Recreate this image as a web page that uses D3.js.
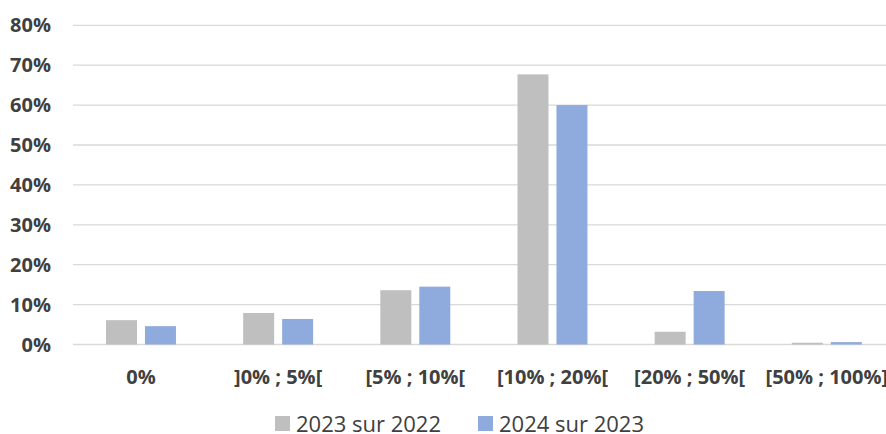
<!DOCTYPE html>
<html><head>
<meta charset="utf-8">
<script src="https://d3js.org/d3.v7.min.js"></script>
<style>
  body { margin: 0; background: #fff; }
  text { font-family: "Open Sans", "Noto Sans", sans-serif; fill: #404040; }
  text.tick { font-weight: bold; font-size: 20px; }
  text.cat { font-weight: bold; font-size: 20px; text-anchor: middle; }
  text.leg { font-size: 22px; }
  line.grid { stroke: #d9d9d9; stroke-width: 1.3px; }
</style>
</head>
<body>
<svg id="chart" width="886" height="434"></svg>
<script>
  // categories and values
  const categories = ["0%", "]0% ; 5%[", "[5% ; 10%[", "[10% ; 20%[", "[20% ; 50%[", "[50% ; 100%]"];
  const seriesNames = ["2023 sur 2022", "2024 sur 2023"];
  const values2023 = [0.061, 0.079, 0.136, 0.677, 0.032, 0.0045];
  const values2024 = [0.046, 0.064, 0.145, 0.600, 0.134, 0.006];
  const yTicks = [0, 0.1, 0.2, 0.3, 0.4, 0.5, 0.6, 0.7, 0.8];
  const colors = ["#bfbfbf", "#8faadc"];

  const svg = d3.select("#chart");

  const x0 = d3.scaleBand().domain(categories).range([72.4, 895.4])
               .paddingInner(0.49).paddingOuter(0.245);
  const x1 = d3.scaleBand().domain(seriesNames).range([0, x0.bandwidth()]).paddingInner(0.205);
  const y = d3.scaleLinear().domain([0, 0.8]).range([344.5, 25.3]);

  // gridlines
  svg.selectAll("line.grid").data(yTicks).join("line")
     .attr("class", "grid")
     .attr("x1", 73).attr("x2", 886)
     .attr("y1", d => y(d)).attr("y2", d => y(d));

  // y tick labels
  svg.selectAll("text.tick").data(yTicks).join("text")
     .attr("class", "tick")
     .attr("x", 51).attr("y", d => y(d))
     .attr("dy", "0.35em")
     .attr("text-anchor", "end")
     .text(d => d3.format(".0%")(d));

  // bars
  const rows = categories.map((c, i) => ({cat: c, vals: [values2023[i], values2024[i]]}));
  const groups = svg.selectAll("g.grp").data(rows).join("g")
     .attr("class", "grp")
     .attr("transform", d => "translate(" + x0(d.cat) + ",0)");
  groups.selectAll("rect").data(d => d.vals.map((v, k) => ({name: seriesNames[k], v: v, k: k})))
     .join("rect")
     .attr("x", d => x1(d.name))
     .attr("width", x1.bandwidth())
     .attr("y", d => y(d.v))
     .attr("height", d => y(0) - y(d.v))
     .attr("fill", d => colors[d.k]);

  // category labels
  svg.selectAll("text.cat").data(categories).join("text")
     .attr("class", "cat")
     .attr("x", d => x0(d) + x0.bandwidth() / 2)
     .attr("y", 377)
     .attr("dy", "0.35em")
     .text(d => d);

  // legend
  const legX = [275, 478];
  const leg = svg.selectAll("g.leg").data(seriesNames).join("g")
     .attr("class", "leg")
     .attr("transform", (d, i) => "translate(" + legX[i] + ",416)");
  leg.append("rect").attr("width", 15).attr("height", 15).attr("fill", (d, i) => colors[i]);
  leg.append("text").attr("class", "leg").attr("x", 21).attr("y", 8).attr("dy", "0.35em").text(d => d);
</script>
</body>
</html>
